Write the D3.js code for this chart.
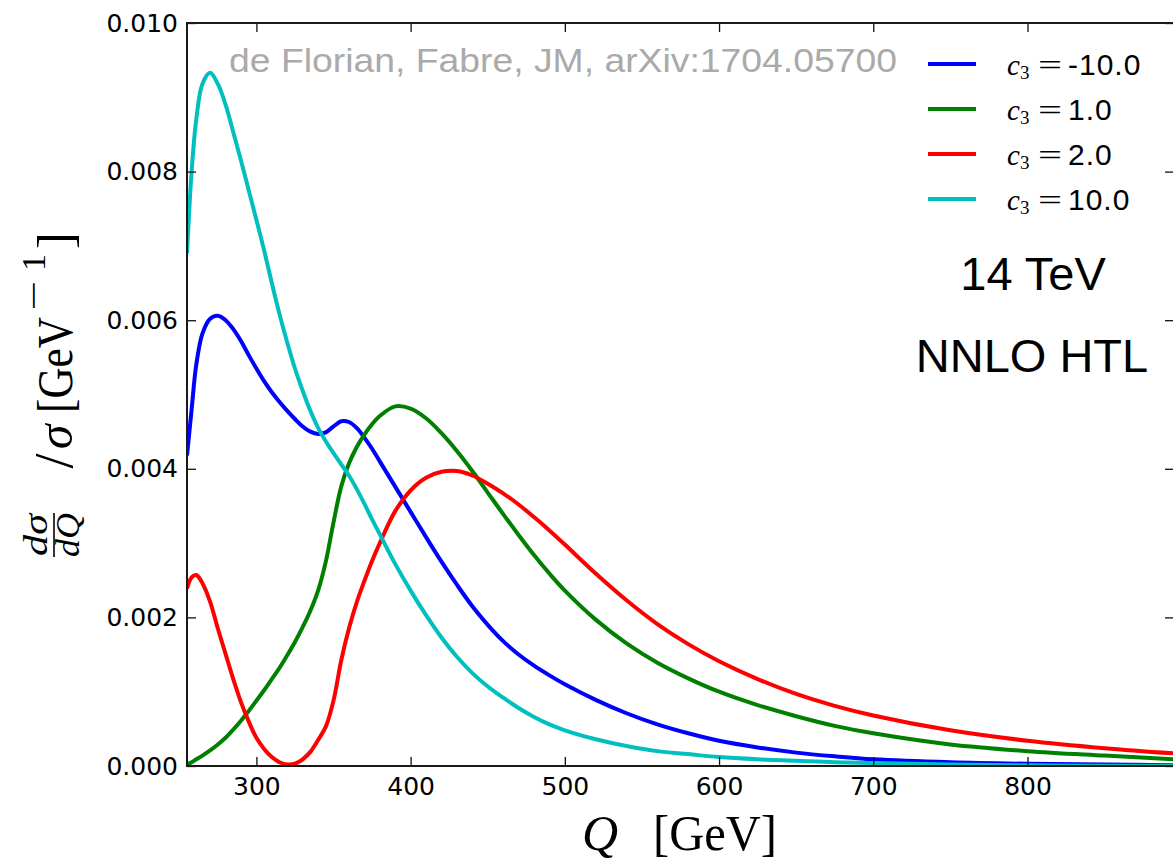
<!DOCTYPE html>
<html>
<head>
<meta charset="utf-8">
<script src="https://cdn.jsdelivr.net/npm/d3@7"></script>
<style>
  body { margin: 0; background: #fff; }
  svg { display: block; }
</style>
</head>
<body>
<svg id="chart" width="1173" height="864"></svg>
<script>
// Invariant-mass grid Q [GeV]
const Q = [255, 258, 261, 265, 270, 275, 280, 285, 290, 295, 300, 305, 310, 315, 320, 325, 330, 335, 340, 345,
           350, 355, 360, 365, 370, 375, 380, 390, 400, 410, 420, 430, 440, 450, 460, 470, 480, 490, 500, 520,
           540, 560, 580, 600, 625, 650, 675, 700, 750, 800, 850, 895];

// Normalised distributions (1/sigma) dsigma/dQ [GeV^-1] for each trilinear coupling c3
const distCm10 = [0.00418, 0.00480, 0.00540, 0.00582, 0.00602, 0.00606, 0.00600, 0.00588, 0.00572, 0.00553,
                  0.00535, 0.00518, 0.00503, 0.00490, 0.00478, 0.00467, 0.00457, 0.00450, 0.00447, 0.00449,
                  0.00457, 0.00464, 0.00463, 0.00455, 0.00442, 0.00427, 0.00410, 0.00376, 0.00342, 0.00308,
                  0.00275, 0.00244, 0.00215, 0.00190, 0.00168, 0.00150, 0.00135, 0.00122, 0.00110, 0.00089,
                  0.00071, 0.00056, 0.00044, 0.00034, 0.00025, 0.00018, 0.00013, 0.00009, 0.00005, 0.00003,
                  0.00002, 0.00001];
const distC1 = [0.00002, 0.00005, 0.00009, 0.00014, 0.00021, 0.00029, 0.00038, 0.00049, 0.00061, 0.00074,
                0.00088, 0.00102, 0.00117, 0.00132, 0.00149, 0.00167, 0.00187, 0.00209, 0.00236, 0.00275,
                0.00328, 0.00376, 0.00407, 0.00429, 0.00446, 0.00460, 0.00471, 0.00484, 0.00481, 0.00468,
                0.00448, 0.00424, 0.00397, 0.00368, 0.00339, 0.00311, 0.00284, 0.00259, 0.00236, 0.00197,
                0.00165, 0.00139, 0.00118, 0.00100, 0.00082, 0.00067, 0.00054, 0.00044, 0.00029, 0.00020,
                0.00014, 0.00009];
const distC2 = [0.00239, 0.00254, 0.00257, 0.00246, 0.00221, 0.00185, 0.00151, 0.00117, 0.00086, 0.00060,
                0.00038, 0.00023, 0.00012, 0.00005, 0.00002, 0.00003, 0.00009, 0.00019, 0.00035, 0.00053,
                0.00088, 0.00142, 0.00185, 0.00220, 0.00249, 0.00276, 0.00300, 0.00343, 0.00371, 0.00388,
                0.00396, 0.00397, 0.00391, 0.00380, 0.00367, 0.00352, 0.00335, 0.00317, 0.00298, 0.00259,
                0.00223, 0.00191, 0.00164, 0.00141, 0.00117, 0.00097, 0.00081, 0.00068, 0.00048, 0.00034,
                0.00024, 0.00017];
const distC10 = [0.00690, 0.00800, 0.00870, 0.00918, 0.00933, 0.00918, 0.00890, 0.00853, 0.00815, 0.00775,
                 0.00735, 0.00694, 0.00650, 0.00608, 0.00570, 0.00535, 0.00505, 0.00478, 0.00455, 0.00437,
                 0.00421, 0.00406, 0.00391, 0.00373, 0.00353, 0.00332, 0.00312, 0.00272, 0.00236, 0.00203,
                 0.00173, 0.00147, 0.00125, 0.00107, 0.00092, 0.00078, 0.00066, 0.00056, 0.00048, 0.00036,
                 0.00027, 0.00020, 0.00016, 0.00012, 0.00009, 0.00007, 0.00005, 0.00004, 0.00002, 0.00001,
                 0.000005, 0.000003];

const c3Labels = ["-10.0", "1.0", "2.0", "10.0"];
const xTickValues = [300, 400, 500, 600, 700, 800];
const yTickValues = [0.000, 0.002, 0.004, 0.006, 0.008, 0.010];

// ---- styling / layout ----
const seriesColors = ["#0000ff", "#008000", "#ff0000", "#00bfbf"];
const W = 1173, H = 864;
const plot = { left: 187, right: 1174, top: 23, bottom: 766 };
const sansText = "'Liberation Sans', Arial, sans-serif";
const tickFont = "'DejaVu Sans', sans-serif";
const serif = "'Liberation Serif', 'Times New Roman', serif";

const svg = d3.select("#chart");
svg.append("rect").attr("width", W).attr("height", H).attr("fill", "#fff");

const x = d3.scaleLinear().domain([255, 895]).range([plot.left, plot.right]);
const y = d3.scaleLinear().domain([0, 0.010]).range([plot.bottom, plot.top]);

svg.append("defs").append("clipPath").attr("id", "plot-clip")
  .append("rect")
  .attr("x", plot.left).attr("y", plot.top)
  .attr("width", plot.right - plot.left).attr("height", plot.bottom - plot.top);

// ---- curves ----
const series = [distCm10, distC1, distC2, distC10].map((vals, i) => ({
  label: c3Labels[i],
  color: seriesColors[i],
  points: Q.map((q, j) => [q, vals[j]])
}));

const line = d3.line()
  .x(d => x(d[0]))
  .y(d => y(d[1]))
  .curve(d3.curveCatmullRom.alpha(0.5));

svg.append("g").attr("clip-path", "url(#plot-clip)")
  .selectAll("path")
  .data(series)
  .join("path")
  .attr("d", d => line(d.points))
  .attr("fill", "none")
  .attr("stroke", d => d.color)
  .attr("stroke-width", 4)
  .attr("stroke-linejoin", "round");

// ---- axes (ticks drawn inwards on all four sides) ----
const tickLen = 9;
function styleAxis(g) {
  g.select(".domain").remove();
  g.selectAll(".tick line").attr("stroke", "#111").attr("stroke-width", 1.3);
  g.selectAll(".tick text").attr("fill", "#000").attr("font-family", tickFont).attr("font-size", 25);
}

svg.append("g")
  .attr("transform", `translate(0,${plot.bottom})`)
  .call(d3.axisBottom(x).tickValues(xTickValues).tickFormat(d3.format("d"))
        .tickSizeInner(-tickLen).tickSizeOuter(0).tickPadding(11))
  .call(styleAxis);

svg.append("g")
  .attr("transform", `translate(0,${plot.top})`)
  .call(d3.axisTop(x).tickValues(xTickValues).tickFormat("")
        .tickSizeInner(-tickLen).tickSizeOuter(0))
  .call(styleAxis);

svg.append("g")
  .attr("transform", `translate(${plot.left},0)`)
  .call(d3.axisLeft(y).tickValues(yTickValues).tickFormat(d3.format(".3f"))
        .tickSizeInner(-tickLen).tickSizeOuter(0).tickPadding(9))
  .call(styleAxis);

svg.append("g")
  .attr("transform", `translate(${plot.right},0)`)
  .call(d3.axisRight(y).tickValues(yTickValues).tickFormat("")
        .tickSizeInner(-tickLen).tickSizeOuter(0))
  .call(styleAxis);

// frame
svg.append("rect")
  .attr("x", plot.left).attr("y", plot.top)
  .attr("width", plot.right - plot.left).attr("height", plot.bottom - plot.top)
  .attr("fill", "none").attr("stroke", "#1a1a1a").attr("stroke-width", 2);

// ---- x label: Q [GeV] ----
const xl = svg.append("g").attr("font-family", serif).attr("fill", "#000");
xl.append("text").attr("x", 582).attr("y", 850).attr("font-size", 50)
  .attr("font-style", "italic").text("Q");
xl.append("text").attr("x", 653).attr("y", 850).attr("font-size", 50)
  .attr("textLength", 124).attr("lengthAdjust", "spacingAndGlyphs").text("[GeV]");

// ---- y label: (dσ/dQ) / σ [GeV^-1] ----
const yl = svg.append("g")
  .attr("transform", "translate(72,399) rotate(-90)")
  .attr("font-family", serif).attr("fill", "#000");
yl.append("text").attr("x", -136).attr("y", -25).attr("text-anchor", "middle")
  .attr("font-size", 34).attr("font-style", "italic")
  .attr("textLength", 42).attr("lengthAdjust", "spacingAndGlyphs").text("dσ");
yl.append("line").attr("x1", -158).attr("x2", -114).attr("y1", -18).attr("y2", -18)
  .attr("stroke", "#000").attr("stroke-width", 1.6);
yl.append("text").attr("x", -136).attr("y", 7).attr("text-anchor", "middle")
  .attr("font-size", 34).attr("font-style", "italic")
  .attr("textLength", 44).attr("lengthAdjust", "spacingAndGlyphs").text("dQ");
yl.append("text").attr("x", -62).attr("y", 0).attr("text-anchor", "middle")
  .attr("font-size", 54).text("/");
yl.append("text").attr("x", -38).attr("y", 0).attr("text-anchor", "middle")
  .attr("font-size", 50).attr("font-style", "italic").text("σ");
yl.append("text").attr("x", -14).attr("y", 0).attr("font-size", 50)
  .attr("textLength", 96).attr("lengthAdjust", "spacingAndGlyphs").text("[GeV");
// superscript −1
yl.append("text").attr("x", 88).attr("y", -27).attr("font-size", 34)
  .attr("textLength", 30).attr("lengthAdjust", "spacingAndGlyphs").text("−");
yl.append("text").attr("x", 128).attr("y", -27).attr("font-size", 34).text("1");
yl.append("text").attr("x", 150).attr("y", 0).attr("font-size", 50).text("]");

// ---- annotations ----
svg.append("text")
  .attr("x", 229).attr("y", 72)
  .attr("font-family", sansText).attr("font-size", 33).attr("fill", "#aaaaaa")
  .attr("textLength", 668).attr("lengthAdjust", "spacingAndGlyphs")
  .text("de Florian, Fabre, JM, arXiv:1704.05700");

svg.append("text").attr("x", 1033).attr("y", 290).attr("text-anchor", "middle")
  .attr("font-family", sansText).attr("font-size", 47).attr("fill", "#000").text("14 TeV");
svg.append("text").attr("x", 1032).attr("y", 372).attr("text-anchor", "middle")
  .attr("font-family", sansText).attr("font-size", 47).attr("fill", "#000").text("NNLO HTL");

// ---- legend ----
const legend = svg.append("g");
const rowY = d3.scalePoint().domain(c3Labels).range([64, 199]);
const rows = legend.selectAll("g").data(series).join("g")
  .attr("transform", d => `translate(0,${rowY(d.label)})`);
rows.append("line").attr("x1", 928).attr("x2", 976).attr("y1", 0).attr("y2", 0)
  .attr("stroke", d => d.color).attr("stroke-width", 4);
const lt = rows.append("text").attr("y", 11).attr("fill", "#000");
lt.append("tspan").attr("x", 1007).attr("font-family", serif).attr("font-style", "italic")
  .attr("font-size", 29).text("c");
lt.append("tspan").attr("font-family", serif).attr("font-size", 19).attr("dy", 4).text("3");
lt.append("tspan").attr("x", 1038).attr("dy", -4).attr("font-family", serif).attr("font-size", 30)
  .attr("textLength", 24).attr("lengthAdjust", "spacingAndGlyphs").text("=");
lt.append("tspan").attr("x", 1068).attr("font-family", sansText).attr("font-size", 30)
  .attr("letter-spacing", 1).text(d => d.label);
</script>
</body>
</html>
